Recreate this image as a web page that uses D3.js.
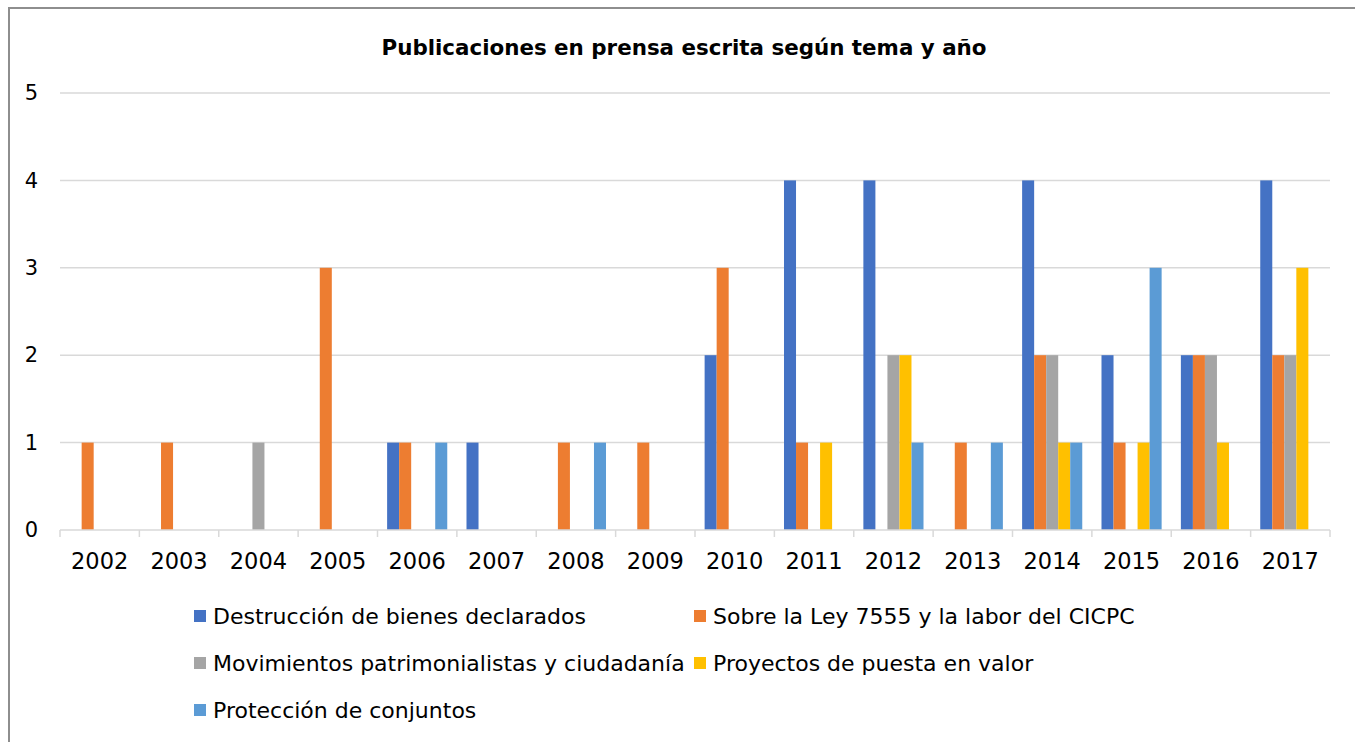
<!DOCTYPE html>
<html>
<head>
<meta charset="utf-8">
<script src="https://cdn.jsdelivr.net/npm/d3@7"></script>
<style>
  html, body { margin: 0; padding: 0; background: #fff; }
  svg { display: block; }
  text { font-family: "DejaVu Sans", sans-serif; fill: #000; }
</style>
</head>
<body>
<svg id="chart" width="1355" height="742"></svg>
<script>
// Años (categorías)
const years = ["2002","2003","2004","2005","2006","2007","2008","2009",
               "2010","2011","2012","2013","2014","2015","2016","2017"];

// Series: número de publicaciones por año
const destruccion  = [0,0,0,0,1,1,0,0,2,4,4,0,4,2,2,4];
const sobreLey     = [1,1,0,3,1,0,1,1,3,1,0,1,2,1,2,2];
const movimientos  = [0,0,1,0,0,0,0,0,0,0,2,0,2,0,2,2];
const proyectos    = [0,0,0,0,0,0,0,0,0,1,2,0,1,1,1,3];
const proteccion   = [0,0,0,0,1,0,1,0,0,0,1,1,1,3,0,0];

const seriesNames = [
  "Destrucción de bienes declarados",
  "Sobre la Ley 7555 y la labor del CICPC",
  "Movimientos patrimonialistas y ciudadanía",
  "Proyectos de puesta en valor",
  "Protección de conjuntos"
];
const seriesColors = ["#4472C4", "#ED7D31", "#A5A5A5", "#FFC000", "#5B9BD5"];
const yTicks = [0, 1, 2, 3, 4, 5];

const seriesValues = [destruccion, sobreLey, movimientos, proyectos, proteccion];
const series = seriesNames.map((name, i) => ({ name, color: seriesColors[i], values: seriesValues[i] }));

const svg = d3.select("#chart");

// Marco del gráfico
svg.append("path")
  .attr("d", "M9,742 V8 H1355")
  .attr("fill", "none")
  .attr("stroke", "#8E8E8E")
  .attr("stroke-width", 2);

const plot = { left: 60, right: 1330, top: 93, bottom: 530 };

const x = d3.scaleBand().domain(years).range([plot.left, plot.right]).paddingInner(0).paddingOuter(0);
const inner = d3.scaleBand().domain(d3.range(series.length))
  .range([0, x.bandwidth()]).paddingInner(0).paddingOuter(0.8);
const y = d3.scaleLinear().domain([0, 5]).range([plot.bottom, plot.top]);

// Título
svg.append("text")
  .attr("x", 684).attr("y", 55)
  .attr("text-anchor", "middle")
  .style("font-weight", "bold")
  .style("font-size", "21.4px")
  .text("Publicaciones en prensa escrita según tema y año");

// Líneas de cuadrícula
svg.append("g")
  .selectAll("line")
  .data(yTicks.filter(d => d > 0))
  .join("line")
  .attr("x1", plot.left).attr("x2", plot.right)
  .attr("y1", d => y(d)).attr("y2", d => y(d))
  .attr("stroke", "#D9D9D9").attr("stroke-width", 1.5);

// Eje Y (solo etiquetas)
const yAxis = svg.append("g")
  .attr("transform", `translate(${plot.left},0)`)
  .call(d3.axisLeft(y).tickValues(yTicks).tickSize(0).tickPadding(22).tickFormat(d3.format("d")));
yAxis.select(".domain").remove();
yAxis.selectAll("text").style("font-size", "21px").attr("font-family", null);

// Barras
const groups = svg.append("g")
  .selectAll("g")
  .data(series)
  .join("g")
  .attr("fill", d => d.color);

groups.each(function (s, si) {
  d3.select(this).selectAll("rect")
    .data(s.values.map((v, i) => ({ year: years[i], v })).filter(d => d.v > 0))
    .join("rect")
    .attr("x", d => x(d.year) + inner(si))
    .attr("width", inner.bandwidth())
    .attr("y", d => y(d.v))
    .attr("height", d => y(0) - y(d.v));
});

// Eje X con marcas entre categorías
const xAxisG = svg.append("g").attr("transform", `translate(0,${plot.bottom})`);
xAxisG.append("line")
  .attr("x1", plot.left).attr("x2", plot.right)
  .attr("stroke", "#D9D9D9").attr("stroke-width", 1.5);
const boundaries = years.map(d => x(d)).concat([plot.right]);
xAxisG.selectAll("line.tick")
  .data(boundaries)
  .join("line")
  .attr("class", "tick")
  .attr("x1", d => d).attr("x2", d => d)
  .attr("y1", 0).attr("y2", 7)
  .attr("stroke", "#D9D9D9").attr("stroke-width", 1.5);
xAxisG.selectAll("text")
  .data(years)
  .join("text")
  .attr("x", d => x(d) + x.bandwidth() / 2)
  .attr("y", 39)
  .attr("text-anchor", "middle")
  .style("font-size", "22.5px")
  .text(d => d);

// Leyenda
const legendPos = [
  { x: 194, y: 616 }, { x: 694, y: 616 },
  { x: 194, y: 663 }, { x: 694, y: 663 },
  { x: 194, y: 710 }
];
const legend = svg.append("g")
  .selectAll("g")
  .data(series)
  .join("g")
  .attr("transform", (d, i) => `translate(${legendPos[i].x},${legendPos[i].y})`);
legend.append("rect")
  .attr("x", 0).attr("y", -6).attr("width", 12).attr("height", 12)
  .attr("fill", d => d.color);
legend.append("text")
  .attr("x", 19).attr("y", 8)
  .style("font-size", "22px")
  .text(d => d.name);
</script>
</body>
</html>
